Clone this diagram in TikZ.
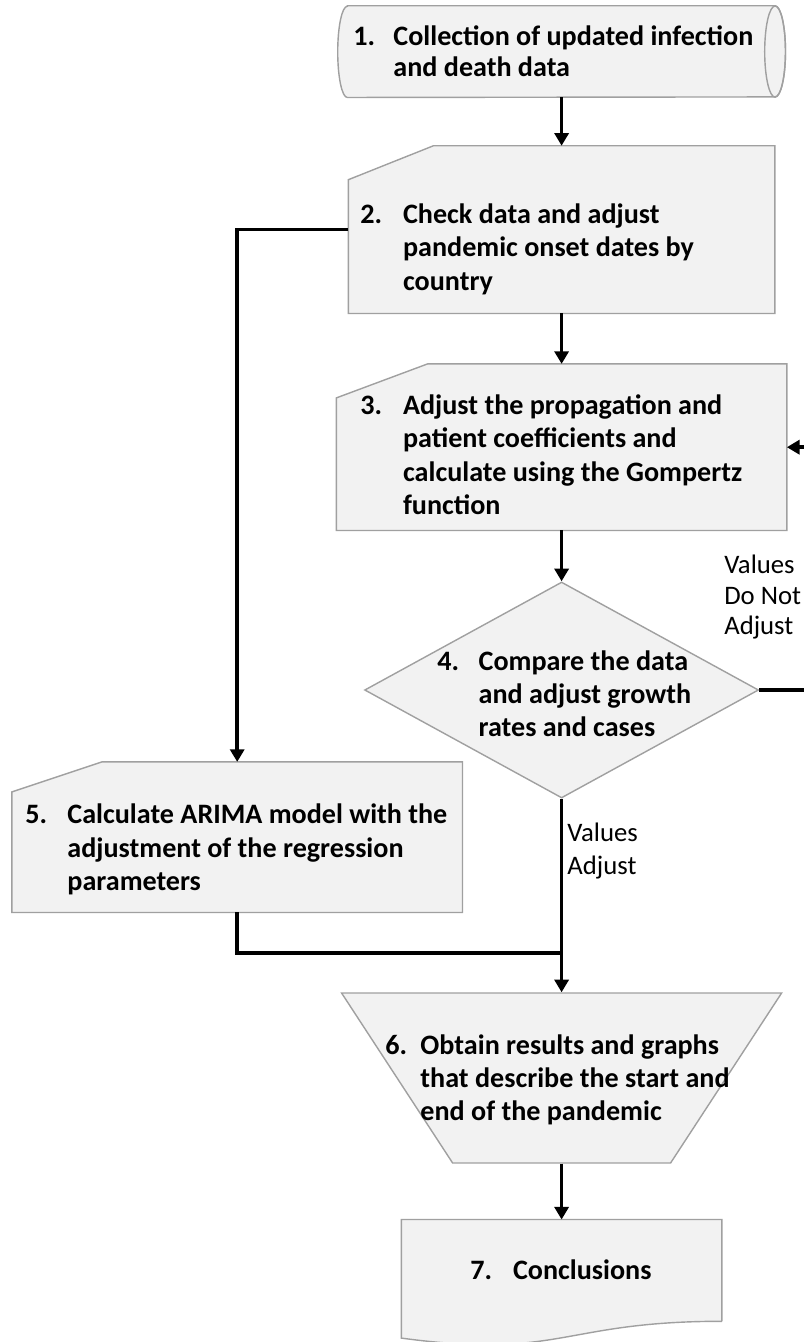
\documentclass[tikz,border=0pt]{standalone}
\usepackage{fontspec}
\setmainfont{Carlito}
\usepackage{tikz}
\usetikzlibrary{shapes.geometric,arrows.meta}

\definecolor{boxgray}{HTML}{F2F2F2}
\definecolor{linegray}{HTML}{A0A0A0}

% numbered step text: number, then the lines of the step
\newcommand{\stepitem}[3][1.05cm]{\makebox[#1][l]{#2}\begin{tabular}[t]{@{}l@{}}#3\end{tabular}}

\tikzset{
  stepbox/.style={draw=linegray, fill=boxgray, line width=1pt, inner sep=0pt},
  outline/.style={inner sep=0pt},
  steptext/.style={anchor=west, inner sep=0pt, font=\bfseries\fontsize{20}{23.8}\selectfont},
  choice/.style={anchor=west, inner sep=0pt, font=\fontsize{19}{23.5}\selectfont},
  link/.style={line width=2.6pt, line join=miter},
  flow/.style={link, -{Triangle[length=9pt,width=10pt]}},
}

\begin{document}
\begin{tikzpicture}
\useasboundingbox (0,0) rectangle (20.1,-33.55);
\clip (0,0) rectangle (20.1,-33.55);

% shapes
\node[outline, minimum width=11.18cm, minimum height=2.28cm] (collect) at (14.04,-1.29) {};
\draw[stepbox] ([xshift=0.24cm]collect.north west) -- ([xshift=-0.26cm]collect.north east)
  arc[start angle=90, end angle=-90, x radius=0.26cm, y radius=1.14cm]
  -- ([xshift=0.24cm]collect.south west)
  arc[start angle=270, end angle=90, x radius=0.24cm, y radius=1.14cm] -- cycle;
\draw[stepbox, fill=none] ([xshift=-0.26cm]collect.east) ellipse [x radius=0.26cm, y radius=1.14cm];

\node[outline, minimum width=10.65cm, minimum height=4.18cm] (check) at (14.04,-5.74) {};
\draw[stepbox] ([yshift=-0.85cm]check.north west) -- ([xshift=2.13cm]check.north west)
  -- (check.north east) -- (check.south east) -- (check.south west) -- cycle;

\node[outline, minimum width=11.25cm, minimum height=4.15cm] (adjust) at (14.04,-11.18) {};
\draw[stepbox] ([yshift=-0.85cm]adjust.north west) -- ([xshift=2.28cm]adjust.north west)
  -- (adjust.north east) -- (adjust.south east) -- (adjust.south west) -- cycle;

\node[stepbox, diamond, minimum width=9.85cm, minimum height=5.4cm] (compare) at (14.04,-17.25) {};

\node[outline, minimum width=11.25cm, minimum height=3.75cm] (arima) at (5.93,-20.93) {};
\draw[stepbox] ([yshift=-0.75cm]arima.north west) -- ([xshift=2.25cm]arima.north west)
  -- (arima.north east) -- (arima.south east) -- (arima.south west) -- cycle;

\node[stepbox, trapezium, shape border rotate=180, trapezium stretches=true,
      trapezium left angle=63, trapezium right angle=63, inner sep=2pt,
      minimum width=11cm, minimum height=4.25cm] (results) at (14.04,-26.95) {};

\node[outline, minimum width=8cm, minimum height=2.53cm] (concl) at (14.04,-31.76) {};
\draw[stepbox] (concl.south east) -- (concl.north east) -- (concl.north west) -- ([yshift=-0.42cm]concl.south west)
  .. controls ([yshift=-0.96cm]concl.south) and (concl.south) .. (concl.south east);

% texts
\node[steptext, font=\bfseries\fontsize{20}{22}\selectfont] (collect-t) at (8.83,-1.36)
  {\stepitem[1.0cm]{1.}{Collection of updated infection\\ and death data}};
\node[steptext] (check-t) at (9.0,-6.25)
  {\stepitem[1.07cm]{2.}{Check data and adjust\\ pandemic onset dates by\\ country}};
\node[steptext] (adjust-t) at (9.0,-11.45)
  {\stepitem[1.07cm]{3.}{Adjust the propagation and\\ patient coefficients and\\ calculate using the Gompertz\\ function}};
\node[steptext] (compare-t) at (10.93,-17.42)
  {\stepitem[1.03cm]{4.}{Compare the data\\ and adjust growth\\ rates and cases}};
\node[steptext] (arima-t) at (0.63,-21.26)
  {\stepitem{5.}{Calculate ARIMA model with the\\ adjustment of the regression\\ parameters}};
\node[steptext] (results-t) at (9.63,-27.02)
  {\stepitem[0.875cm]{6.}{Obtain results and graphs\\ that describe the start and\\ end of the pandemic}};
\node[steptext] (concl-t) at (11.75,-31.83)
  {\stepitem[1.07cm]{7.}{Conclusions}};

\node[choice, font=\fontsize{19}{21.5}\selectfont] (no-adjust) at (18.1,-14.95) {\begin{tabular}{@{}l@{}}Values\\ Do Not\\ Adjust\end{tabular}};
\node[choice] (yes-adjust) at (14.18,-21.28) {\begin{tabular}{@{}l@{}}Values\\ Adjust\end{tabular}};

% connectors
\coordinate (merge) at (14.04,-23.83);
\coordinate (loop) at (20.6,-17.25);
\draw[flow] (collect) -- (check);
\draw[flow] (check) -- (adjust);
\draw[flow] (adjust) -- (compare);
\draw[flow] (compare) -- (results);
\draw[flow] (results) -- (concl);
\draw[flow] (check.west) -| (arima.north);
\draw[link] (arima.south) |- (merge);
\draw[flow] (compare.east) -- (loop) |- (adjust.east);
\end{tikzpicture}
\end{document}
